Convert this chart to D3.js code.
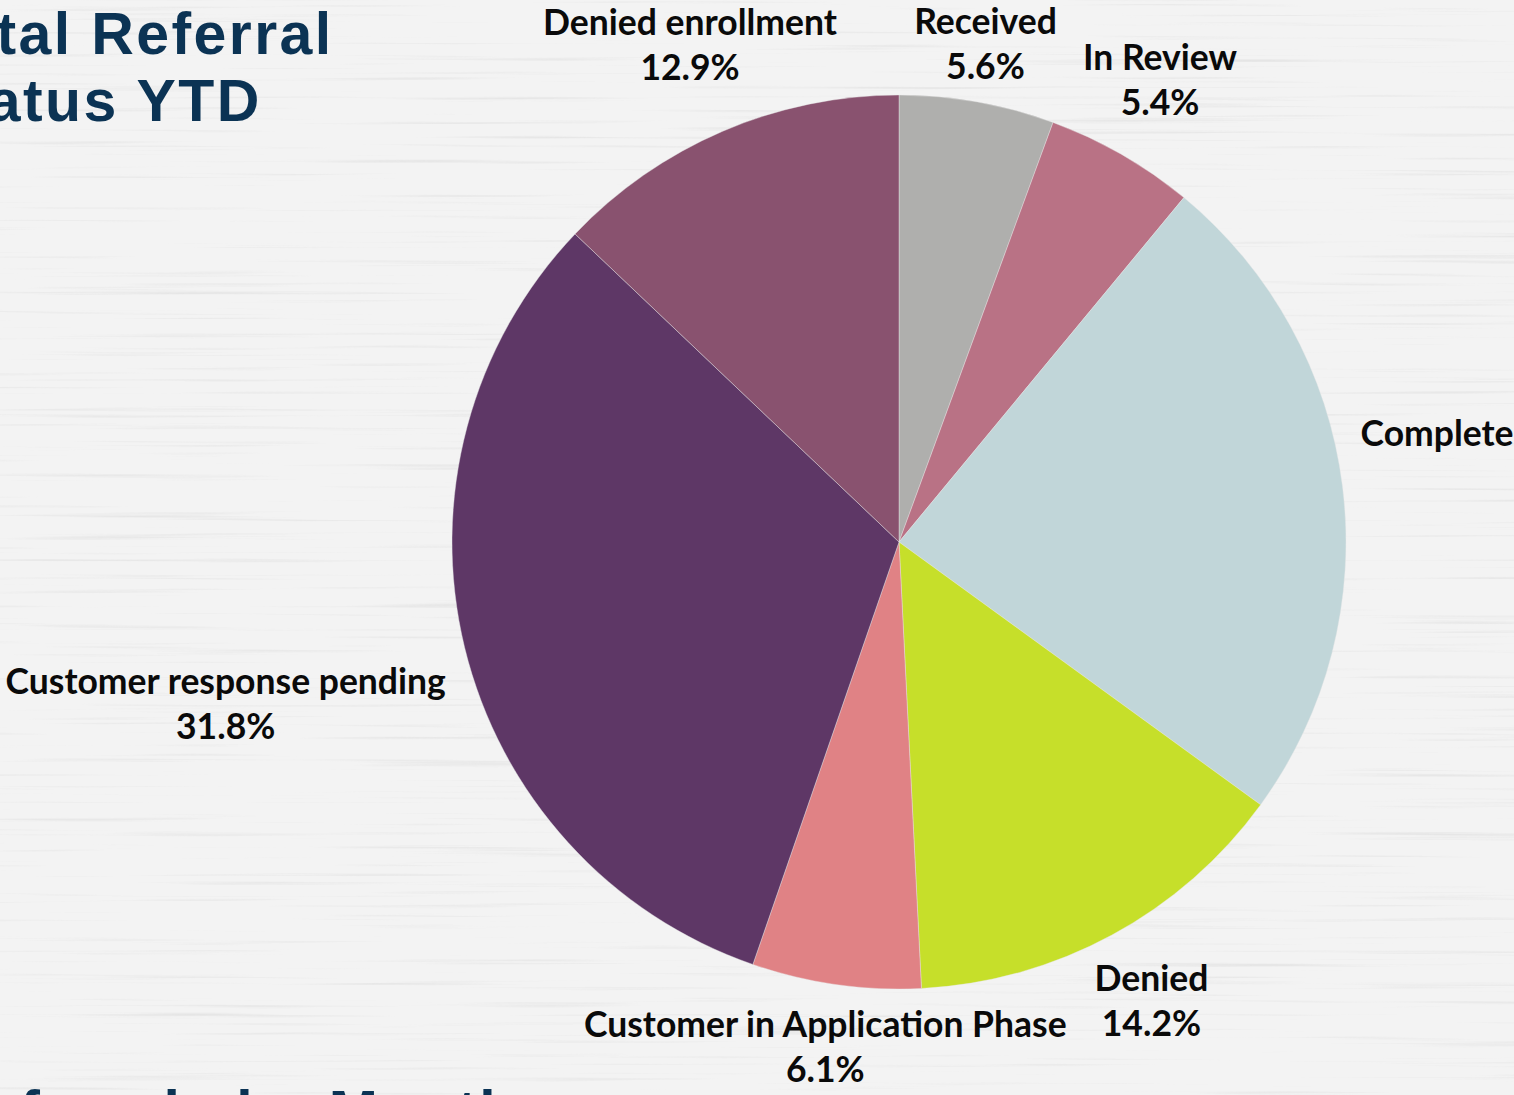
<!DOCTYPE html>
<html>
<head>
<meta charset="utf-8">
<script src="https://cdn.jsdelivr.net/npm/d3@7"></script>
<style>
body{margin:0;overflow:hidden;background:#f1f1f1;}
svg{display:block;}
</style>
</head>
<body>
<svg id="_svg" width="1514" height="1095"></svg>
<script>
// slices, clockwise from 12 o'clock
var categories = ['Received', 'In Review', 'Completed and now enrolled', 'Denied', 'Customer in Application Phase', 'Customer response pending', 'Denied enrollment'];
var values = [5.6, 5.4, 24.0, 14.2, 6.1, 31.8, 12.9];
var colors = ['#afafad', '#b97285', '#c1d6d9', '#c6df2a', '#e08285', '#5e3766', '#89526f'];
// label placement (layout only): distance from centre and a small vertical nudge
var labelRadius = [494, 524, 694, 530, 523, 693, 530];
var labelNudge = [0, 4, 13, 5, -1, 10, 2];

var titleLines = ['Total Referral', 'Status YTD'];
var nextTitle = 'Referrals by Month';

var cx = 899, cy = 542, r = 447;
var svg = d3.select('#_svg');

//背景 - whitewashed wood
var defs = svg.append('defs');
var f = defs.append('filter').attr('id', 'grain')
    .attr('x', 0).attr('y', 0).attr('width', '100%').attr('height', '100%');
f.append('feTurbulence')
    .attr('type', 'fractalNoise')
    .attr('baseFrequency', '0.003 0.22')
    .attr('numOctaves', 3)
    .attr('seed', 7);
f.append('feColorMatrix')
    .attr('type', 'matrix')
    .attr('values', '0 0 0 0 0.45  0 0 0 0 0.45  0 0 0 0 0.45  3.2 0 0 0 -1.9');
svg.append('rect').attr('width', 1514).attr('height', 1095).style('fill', '#f3f3f3');
svg.append('rect').attr('width', 1514).attr('height', 1095)
    .attr('filter', 'url(#grain)')
    .style('opacity', 0.22);

//标题
var title = svg.append('text')
    .style('font-family', '"Liberation Sans", Arial, sans-serif')
    .style('font-weight', 700)
    .style('font-size', '59px')
    .style('letter-spacing', '2.4px')
    .style('fill', '#0b3354');
title.selectAll('tspan').data(titleLines).enter().append('tspan')
    .attr('x', -76)
    .attr('y', function (d, i) { return 54 + i * 67; })
    .text(function (d) { return d; });

svg.append('text')
    .attr('x', -60)
    .attr('y', 1132)
    .style('font-family', '"Liberation Sans", Arial, sans-serif')
    .style('font-weight', 700)
    .style('font-size', '59px')
    .style('letter-spacing', '2.4px')
    .style('fill', '#0b3354')
    .text(nextTitle);

//饼图
var pie = d3.pie().sort(null).value(function (d) { return d; });
var arcs = pie(values);
var arc = d3.arc().innerRadius(0).outerRadius(r);

var g = svg.append('g').attr('transform', 'translate(' + cx + ',' + cy + ')');
g.selectAll('path').data(arcs).enter().append('path')
    .attr('d', arc)
    .style('fill', function (d, i) { return colors[i]; })
    .style('stroke', '#e9e9e9')
    .style('stroke-width', 0.4);

//标签
var lab = g.selectAll('text.lab').data(arcs).enter().append('text')
    .attr('class', 'lab')
    .attr('text-anchor', 'middle')
    .style('font-family', 'Lato, "Noto Sans", sans-serif')
    .style('font-weight', 700)
    .style('font-size', '35.5px')
    .style('fill', '#0a0a0a')
    .attr('transform', function (d, i) {
        var a = (d.startAngle + d.endAngle) / 2;
        var x = Math.sin(a) * labelRadius[i];
        var y = -Math.cos(a) * labelRadius[i] + labelNudge[i];
        return 'translate(' + x + ',' + y + ')';
    });
lab.append('tspan')
    .attr('x', 0).attr('y', -22)
    .text(function (d, i) { return categories[i]; });
lab.append('tspan')
    .attr('x', 0).attr('y', 23)
    .text(function (d) { return d.value.toFixed(1) + '%'; });
</script>
</body>
</html>
